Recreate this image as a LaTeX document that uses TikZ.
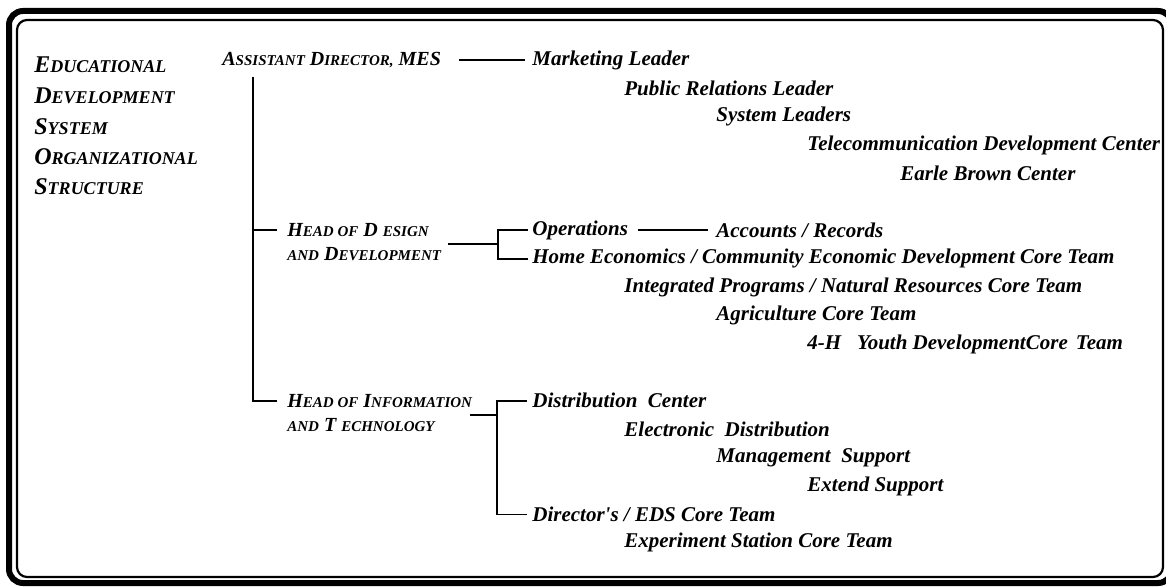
\documentclass[tikz,border=0pt]{standalone}
\usepackage{fontspec}
\setmainfont{Liberation Serif}
\newcommand\tbig{\fontsize{12}{14}\selectfont}
\newcommand\tsml{\fontsize{9}{11}\selectfont}
\newcommand\hbig{\fontsize{10}{12}\selectfont}
\newcommand\hsml{\fontsize{7.5}{9}\selectfont}
\tikzset{
  ttl/.style={anchor=west, inner sep=0pt, font=\bfseries\itshape},
  hdg/.style={anchor=west, inner sep=0pt, font=\bfseries\itshape\hbig},
  lbl/.style={anchor=west, inner sep=0pt, font=\fontsize{10.5}{12}\selectfont\bfseries\itshape},
  ln/.style={draw=black, line width=0.9pt},
}
\begin{document}
\begin{tikzpicture}[x=0.5pt,y=-0.5pt]
\clip (0,0) rectangle (1166,588);
% frames
\draw[line width=3pt, rounded corners=7pt] (9,11) rectangle (1172,583);
\draw[line width=1.1pt, rounded corners=5pt] (17,20) rectangle (1163,577);
% title
\node[ttl] (t1) at (34,65)  {{\tbig E}{\tsml DUCATIONAL}};
\node[ttl] (t2) at (34,96)  {{\tbig D}{\tsml EVELOPMENT}};
\node[ttl] (t3) at (34,127) {{\tbig S}{\tsml YSTEM}};
\node[ttl] (t4) at (34,157) {{\tbig O}{\tsml RGANIZATIONAL}};
\node[ttl] (t5) at (34,187) {{\tbig S}{\tsml TRUCTURE}};
% headings
\node[hdg] (ad)  at (222,60)    {A{\hsml SSISTANT} D{\hsml IRECTOR,} MES};
\node[hdg] (hd1) at (287,230.4) {H{\hsml EAD OF} D {\hsml ESIGN}};
\node[hdg] (hd2) at (287,254)   {{\hsml AND} D{\hsml EVELOPMENT}};
\node[hdg] (hi1) at (287,400.8) {H{\hsml EAD OF} I{\hsml NFORMATION}};
\node[hdg] (hi2) at (287,425)   {{\hsml AND} T {\hsml ECHNOLOGY}};
% labels
\node[lbl] (mk) at (532,60)    {Marketing Leader};
\node[lbl] (pr) at (624,88.4)  {Public Relations Leader};
\node[lbl] (sl) at (716,116.8) {System Leaders};
\node[lbl] (tc) at (807,145.2) {Telecommunication Development Center};
\node[lbl] (eb) at (900,173.6) {Earle Brown Center};
\node[lbl] (op) at (532,230.4) {Operations};
\node[lbl] (ac) at (716,230.4) {Accounts / Records};
\node[lbl] (he) at (532,258.8) {Home Economics / Community Economic Development Core Team};
\node[lbl] (ip) at (624,287.2) {Integrated Programs / Natural Resources Core Team};
\node[lbl] (ag) at (716,315.6) {Agriculture Core Team};
\node[lbl] (yh) at (807,344)   {4-H\hspace{8pt}Youth DevelopmentCore\hspace{4pt}Team};
\node[lbl] (dc) at (532,400.8) {Distribution\ \ Center};
\node[lbl] (ed) at (624,429.2) {Electronic\ \ Distribution};
\node[lbl] (ms) at (716,457.6) {Management\ \ Support};
\node[lbl] (es) at (807,486)   {Extend Support};
\node[lbl] (dr) at (532,514.4) {Director\textquotesingle s / EDS Core Team};
\node[lbl] (ex) at (624,542.8) {Experiment Station Core Team};
% connectors
\coordinate (trunk) at (253,77);
\draw[ln] ([xshift=-5pt]hi1.west) -| (trunk);
\draw[ln] (trunk |- hd1.west) -- ([xshift=-5pt]hd1.west);
\draw[ln] ([xshift=9pt]ad.east) -- ([xshift=-3.5pt]mk.west);
\coordinate (bdl) at (448,244);
\coordinate (bd) at (498,244);
\draw[ln] (bdl) -- (bd);
\draw[ln] ([xshift=-2pt]op.west) -| (bd) |- ([xshift=-2pt]he.west);
\draw[ln] ([xshift=5pt]op.east) -- ([xshift=-4pt]ac.west);
\coordinate (bil) at (470,415);
\coordinate (bi) at (497,415);
\draw[ln] (bil) -- (bi);
\draw[ln] ([xshift=-2.5pt]dc.west) -| (bi) |- ([xshift=-2.5pt]dr.west);
\end{tikzpicture}
\end{document}
